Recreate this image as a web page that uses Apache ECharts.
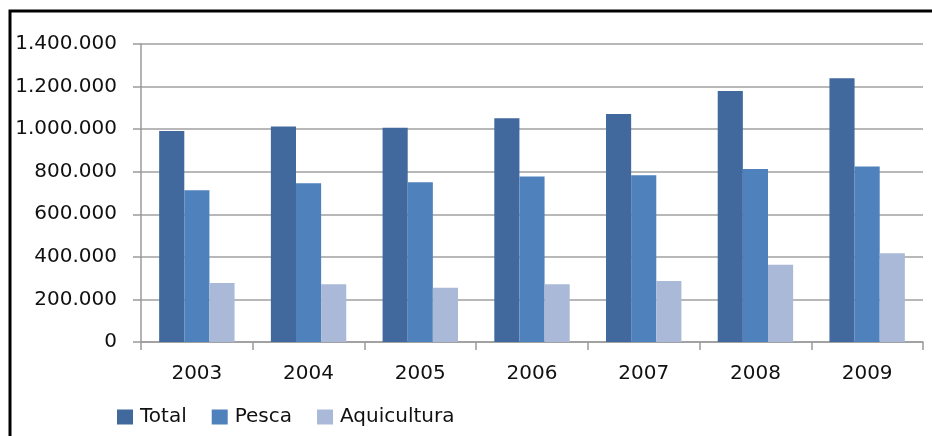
<!DOCTYPE html>
<html>
<head>
<meta charset="utf-8">
<script src="https://cdn.jsdelivr.net/npm/echarts@6/dist/echarts.min.js"></script>
<style>
html,body{margin:0;padding:0;background:#fff;}
#chart{width:932px;height:436px;}
</style>
</head>
<body>
<div id="chart"></div>
<script>
const years = ['2003','2004','2005','2006','2007','2008','2009'];
const total = [991000, 1013000, 1007000, 1051000, 1071000, 1179000, 1239000];
const pesca = [713000, 746000, 750000, 777000, 783000, 813000, 825000];
const aquicultura = [277000, 271000, 255000, 271000, 287000, 363000, 417000];
const seriesNames = ['Total', 'Pesca', 'Aquicultura'];
const colors = ['#41699D', '#4F81BD', '#AAB9D7'];

function fmt(v){
  return String(v).replace(/\B(?=(\d{3})+(?!\d))/g, '.');
}

const chart = echarts.init(document.getElementById('chart'), null, {renderer:'canvas'});
const font = 'DejaVu Sans';
const dataSets = [total, pesca, aquicultura];
chart.setOption({
  animation: false,
  backgroundColor: '#fff',
  textStyle: {fontFamily: font},
  grid: {left: 141, right: 9, top: 44, bottom: 94, containLabel: false},
  legend: {
    data: seriesNames,
    left: 117, top: 407, padding: 0,
    itemWidth: 16, itemHeight: 15, itemGap: 25,
    icon: 'rect',
    textStyle: {fontFamily: font, fontSize: 20, color: '#111', padding: [0,0,0,2]}
  },
  xAxis: {
    type: 'category',
    data: years,
    axisLine: {lineStyle: {color: '#9a9a9a', width: 1.5}},
    axisTick: {show: true, length: 8, lineStyle: {color: '#9a9a9a', width: 1.5}},
    axisLabel: {fontFamily: font, fontSize: 20, color: '#111', margin: 22}
  },
  yAxis: {
    type: 'value',
    min: 0, max: 1400000, interval: 200000,
    axisLine: {show: true, lineStyle: {color: '#9a9a9a', width: 1.5}},
    axisTick: {show: true, length: 8, lineStyle: {color: '#9a9a9a', width: 1.5}},
    splitLine: {lineStyle: {color: '#a0a0a0', width: 1.5}},
    axisLabel: {fontFamily: font, fontSize: 20, color: '#111', margin: 24, formatter: fmt}
  },
  series: seriesNames.map((n, i) => ({
    name: n,
    type: 'bar',
    data: dataSets[i],
    barGap: '0%',
    barCategoryGap: '32.5%',
    itemStyle: {color: colors[i]}
  })),
  graphic: [{
    type: 'polyline',
    shape: {points: [[10, 436], [10, 11], [932, 11]]},
    style: {stroke: '#000', lineWidth: 3, fill: null},
    z: 100
  }]
});
</script>
</body>
</html>
